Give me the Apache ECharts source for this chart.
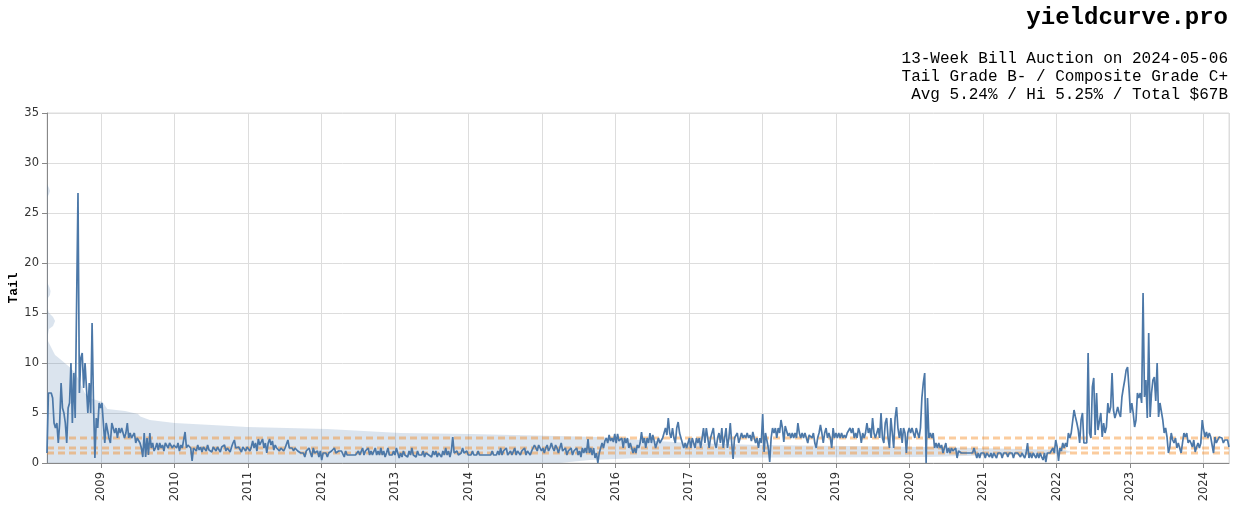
<!DOCTYPE html>
<html>
<head>
<meta charset="utf-8">
<script src="https://cdn.jsdelivr.net/npm/echarts@6/dist/echarts.min.js"></script>
<style>
html,body{margin:0;padding:0;background:#fff;}
#chart{width:1234px;height:509px;}
</style>
</head>
<body>
<div id="chart"></div>
<script>
// ---- Data (weekly 13-week bill auction tails, bp) ----
const titleText = 'yieldcurve.pro';
const subtitleLines = [
  '13-Week Bill Auction on 2024-05-06',
  'Tail Grade B- / Composite Grade C+',
  'Avg 5.24% / Hi 5.25% / Total $67B'
];
const axisTitle = 'Tail';
const firstAuction = '2008-04-07';
const lastAuction = '2024-05-06';
const yearStarts = ['2008-04-07','2009-01-05','2010-01-04','2011-01-03','2012-01-02','2013-01-07','2014-01-06','2015-01-05','2016-01-04','2017-01-02','2018-01-01','2019-01-07','2020-01-06','2021-01-04','2022-01-03','2023-01-02','2024-01-01'];

const tail2008 = [1.0,7.0,7.0,7.0,6.5,4.0,3.5,4.0,2.0,4.0,8.0,5.5,5.0,4.0,2.0,5.5,6.0,10.0,4.0,9.0,4.5,4.5,27.0,7.0,10.5,11.0,7.5,10.0,7.5,5.0,8.0,5.0,14.0,6.0,0.5,4.5,3.5,6.0,5.5];
const tail2009 = [6.0,6.0,2.0,4.0,4.0,2.5,2.0,4.0,4.0,3.0,3.5,2.5,3.5,3.0,3.5,3.5,2.5,3.0,4.0,2.5,3.0,2.5,2.5,3.0,2.0,2.5,2.5,2.0,1.5,0.6,3.0,0.6,2.5,0.8,3.0,1.5,2.0,1.2,1.5,2.0,1.3,2.0,1.5,1.8,1.2,2.0,2.0,1.5,2.0,2.0,1.5,1.8];
const tail2010 = [2.0,1.5,2.0,1.2,1.8,1.5,1.5,3.1,1.5,1.8,2.0,1.5,0.2,1.5,1.6,1.2,1.8,1.3,1.6,1.1,1.6,1.6,1.2,1.8,1.3,1.5,1.1,1.6,1.5,1.2,1.6,1.5,1.1,1.6,1.5,1.8,1.2,1.5,1.6,1.1,1.6,2.0,2.3,1.5,1.3,1.6,1.5,1.1,1.6,1.5,1.2,1.6];
const tail2011 = [1.5,1.2,1.6,2.2,1.5,2.0,1.2,2.4,1.8,2.0,2.4,1.5,2.0,1.0,2.0,2.4,1.8,2.2,1.3,1.8,1.5,1.5,1.2,1.5,1.5,1.2,1.5,1.5,2.3,1.5,1.5,1.5,1.2,1.5,1.5,1.2,1.0,1.0,0.8,1.0,0.6,1.2,1.0,1.5,1.0,0.6,1.5,1.0,0.8,1.2,0.6,1.2];
const tail2012 = [0.3,1.0,0.8,1.0,0.6,1.0,0.8,1.2,1.0,1.5,1.0,1.2,1.2,1.0,1.2,1.0,0.6,1.2,0.8,0.8,0.8,0.8,0.8,0.8,0.8,0.8,1.2,0.8,1.0,1.5,0.8,1.2,1.0,1.5,0.8,1.2,0.8,1.0,1.5,0.8,1.2,0.8,1.5,0.8,1.2,0.6,1.0,1.5,0.8,1.0,0.8,1.2,0.8];
const tail2013 = [1.5,1.0,0.5,1.0,0.6,1.2,0.8,1.0,0.6,1.2,0.8,1.5,0.8,1.0,0.6,1.2,0.8,1.0,0.8,1.2,0.6,1.0,1.2,0.8,1.0,0.6,1.2,0.8,1.2,0.6,1.0,1.2,0.6,1.2,0.8,1.5,0.8,1.2,0.6,1.2,2.6,1.0,0.8,1.2,0.8,1.0,1.0,1.5,1.0,0.8,1.2,0.8];
const tail2014 = [1.0,0.8,1.2,0.8,1.0,0.8,1.2,0.8,0.8,0.8,0.8,0.8,0.8,0.8,0.8,0.8,1.2,0.8,1.0,0.8,1.2,0.8,1.5,0.8,1.2,1.0,1.5,0.8,1.0,1.2,0.8,1.0,1.5,0.8,1.2,1.0,0.8,1.2,1.0,1.5,0.8,1.2,1.0,0.8,1.2,1.5,1.8,1.5,1.2,1.8,1.5,1.2];
const tail2015 = [1.5,1.0,1.5,1.8,1.2,1.5,2.0,1.5,1.2,1.8,1.5,1.0,1.5,2.0,1.2,1.0,1.5,0.8,1.2,1.0,1.5,0.8,1.2,1.0,1.5,0.8,1.2,0.6,1.5,1.0,1.5,1.0,2.4,1.0,1.5,0.8,1.5,0.5,1.0,0.0,1.0,1.5,2.0,1.5,2.2,2.5,2.0,2.8,2.2,2.5,2.1,2.9];
const tail2016 = [2.0,2.9,2.2,2.0,2.5,1.5,2.5,2.0,2.5,1.5,2.0,1.5,1.0,1.5,1.0,1.8,1.5,2.0,3.1,2.0,2.5,1.5,2.5,2.0,3.0,2.0,2.8,2.2,1.5,2.0,2.5,2.0,2.0,2.5,3.0,3.5,2.8,4.5,3.0,2.5,3.5,2.5,2.0,3.5,4.1,3.0,2.5,2.0,1.5,2.0,1.5,2.0];
const tail2017 = [2.5,1.5,2.5,2.0,1.5,2.5,2.0,2.5,1.5,2.5,3.5,2.0,3.5,2.5,1.5,2.5,3.0,3.5,2.0,1.5,2.5,3.0,2.0,3.5,1.5,2.5,3.5,1.5,2.5,4.0,2.0,0.4,2.5,2.5,3.0,2.0,2.5,3.0,2.5,2.8,2.5,3.0,2.5,2.8,2.2,3.1,2.5,2.0,2.5,1.5,2.5,2.0];
const tail2018 = [4.9,1.1,3.0,2.9,1.5,0.1,2.5,3.5,3.0,3.5,2.5,3.5,3.0,4.3,3.5,2.1,3.7,3.5,2.7,3.0,2.5,3.0,2.5,3.0,2.5,4.0,3.0,2.5,3.0,2.5,3.0,2.5,2.0,2.8,3.0,2.5,3.0,2.0,1.5,2.5,3.0,3.8,3.0,2.0,3.0,3.5,2.5,3.0,2.5,1.5,3.5,2.5,3.0];
const tail2019 = [2.5,3.0,2.5,3.0,2.5,2.8,2.5,3.0,3.0,3.5,3.0,3.5,2.5,3.0,2.5,3.5,3.0,2.0,3.0,2.5,3.0,4.0,3.0,3.5,2.5,4.5,3.0,2.5,3.0,3.5,2.5,5.0,2.5,2.0,4.0,4.5,2.5,1.5,4.5,3.0,1.5,4.5,5.6,3.5,2.5,3.5,2.0,3.5,3.0,1.0,3.0,3.5];
const tail2020 = [3.0,3.5,3.0,2.5,3.5,3.0,2.5,3.5,6.5,8.0,9.0,0.0,6.5,2.5,3.0,2.5,3.0,1.5,2.0,1.5,2.0,1.5,1.8,1.0,1.5,2.0,1.0,1.5,1.0,1.5,1.2,1.0,1.5,0.5,1.2,1.0,1.0,1.0,1.0,1.0,1.0,1.0,1.0,1.0,1.0,1.5,1.0,0.5,1.0,0.5,1.0,1.0];
const tail2021 = [1.0,0.5,1.0,1.0,0.6,1.0,0.5,1.0,1.0,0.5,1.0,0.8,1.0,0.5,1.0,1.0,1.0,0.6,1.0,1.0,1.0,0.5,1.0,1.0,1.0,1.0,0.6,1.0,1.0,0.5,1.0,2.0,0.5,1.0,0.5,1.0,0.8,0.5,1.0,0.5,1.0,0.6,0.3,1.0,0.1,1.0,1.0,1.0,1.0,1.5,1.0,2.3];
const tail2022 = [1.6,0.2,1.5,1.2,2.0,1.5,2.0,1.6,3.0,2.5,3.0,3.0,5.3,4.6,4.0,3.3,2.0,4.3,5.0,2.0,2.0,2.0,11.0,3.0,2.5,7.6,8.5,2.8,7.0,3.3,3.5,5.0,2.6,4.0,3.0,3.6,6.0,5.0,5.6,9.0,5.3,4.5,5.0,5.6,5.0,4.6,6.6,7.5,8.3,9.3,9.6,7.5];
const tail2023 = [5.0,6.0,5.0,3.6,4.3,7.0,6.5,7.0,6.0,17.0,6.6,8.3,4.5,13.0,4.6,7.0,8.3,8.6,6.2,10.0,4.6,6.0,6.0,4.3,3.0,3.5,2.6,1.0,1.6,3.0,2.3,2.0,2.5,1.5,2.0,1.5,1.0,2.0,3.0,2.6,3.0,2.0,2.3,2.0,1.6,2.3,1.1,1.6,2.0,1.5,2.0,4.3];
const tail2024 = [3.3,2.6,3.1,2.5,3.0,2.6,2.5,1.0,2.6,2.0,2.1,2.6,2.5,2.5,2.0,2.3,2.5,2.3,1.6];
const tailsByYear = [tail2008,tail2009,tail2010,tail2011,tail2012,tail2013,tail2014,tail2015,tail2016,tail2017,tail2018,tail2019,tail2020,tail2021,tail2022,tail2023,tail2024];

// grade threshold reference lines
const gradeLevels = [1.0, 1.5, 2.5];

// distribution of tails (density as share of the time span), drawn sideways from the axis
const densityTail = [0.0,0.3,0.5,0.6,0.8,0.9,1.1,1.3,1.45,1.6,1.8,2.0,2.3,2.6,2.9,3.0,3.4,3.6,3.7,4.0,4.3,4.65,4.9,5.2,5.4,6.1,6.5,7.0,8.0,9.0,9.6,10.0,10.4,10.8,11.4,11.8,12.2,12.8,13.4,13.7,14.2,14.6,15.0,15.5,16.5,16.8,17.2,17.6,18.0,26.6,26.9,27.2,27.5,27.9];
const densityShare = [0.434,0.459,0.502,0.747,0.806,0.857,0.867,0.861,0.806,0.747,0.603,0.544,0.502,0.468,0.358,0.299,0.237,0.169,0.155,0.108,0.087,0.079,0.077,0.066,0.051,0.047,0.036,0.032,0.028,0.024,0.019,0.015,0.011,0.0068,0.0042,0.0025,0.0008,0.0008,0.0017,0.0051,0.0068,0.0051,0.0017,0.0004,0.0008,0.0025,0.003,0.002,0.0004,0.0004,0.0017,0.0025,0.0017,0.0];

// ---- build series data ----
const DAY = 86400000;
const tailData = [];
yearStarts.forEach((d, i) => {
  const t0 = Date.parse(d + 'T00:00:00Z');
  tailsByYear[i].forEach((v, j) => tailData.push([t0 + j * 7 * DAY, v]));
});
const tMin = Date.parse(firstAuction + 'T00:00:00Z');
const tMax = Date.parse(lastAuction + 'T00:00:00Z');

const MONO = '"Liberation Mono", "Courier New", monospace';
const SANS = '"DejaVu Sans", sans-serif';
const chart = echarts.init(document.getElementById('chart'), null, {renderer: 'canvas'});

const gradeSeries = gradeLevels.map(v => ({
  type: 'line',
  data: [[tMin, v], [tMax, v]],
  showSymbol: false,
  silent: true,
  z: 2,
  lineStyle: {color: 'rgba(245,133,24,0.42)', width: 3, type: [7, 4]}
}));

const subtitleGraphics = subtitleLines.map((t, i) => ({
  type: 'text', right: 6, top: 51 + i * 18,
  style: {text: t, font: '16px ' + MONO, fill: '#000'}
}));

chart.setOption({
  useUTC: true,
  animation: false,
  backgroundColor: '#fff',
  graphic: [
    {type: 'text', right: 6, top: 6,
     style: {text: titleText, font: 'bold 24px ' + MONO, fill: '#000'}},
    ...subtitleGraphics
  ],
  grid: {left: 47, right: 5, top: 113, bottom: 46, show: true, borderColor: '#ddd', borderWidth: 1, containLabel: false, outerBoundsMode: 'none'},
  xAxis: [{
    type: 'time', min: tMin, max: tMax, splitNumber: 16,
    axisLine: {show: true, lineStyle: {color: '#888', width: 1}},
    axisTick: {show: true, length: 5, lineStyle: {color: '#888'}},
    axisLabel: {rotate: 90, formatter: '{yyyy}', color: '#333', fontFamily: SANS, fontSize: 11.5, margin: 9, showMinLabel: false, showMaxLabel: false, hideOverlap: false},
    splitLine: {show: true, lineStyle: {color: '#ddd', width: 1}},
    minorTick: {show: false}
  }, {
    type: 'value', min: 0, max: 1, show: false
  }],
  yAxis: [{
    type: 'value', min: 0, max: 35, interval: 5,
    name: axisTitle, nameLocation: 'middle', nameGap: 27, nameRotate: 90, nameMoveOverlap: false,
    nameTextStyle: {fontFamily: MONO, fontWeight: 'bold', fontSize: 13, color: '#000'},
    axisLine: {show: true, lineStyle: {color: '#888', width: 1}},
    axisTick: {show: true, length: 5, lineStyle: {color: '#888'}},
    axisLabel: {color: '#333', fontFamily: SANS, fontSize: 11.5, margin: 8},
    splitLine: {show: true, lineStyle: {color: '#ddd', width: 1}}
  }],
  series: [
    {
      type: 'custom', xAxisIndex: 1, yAxisIndex: 0, silent: true, z: 1,
      data: [[0, 0]],
      renderItem: function (params, api) {
        const pts = [api.coord([0, densityTail[0]])];
        for (let i = 0; i < densityTail.length; i++) pts.push(api.coord([densityShare[i], densityTail[i]]));
        pts.push(api.coord([0, densityTail[densityTail.length - 1]]));
        return {type: 'polygon', shape: {points: pts}, style: {fill: 'rgba(76,120,168,0.2)'}};
      }
    },
    ...gradeSeries,
    {
      type: 'line', data: tailData, showSymbol: false, z: 3,
      lineStyle: {color: '#4c78a8', width: 1.7},
      sampling: null
    }
  ]
});
</script>
</body>
</html>
